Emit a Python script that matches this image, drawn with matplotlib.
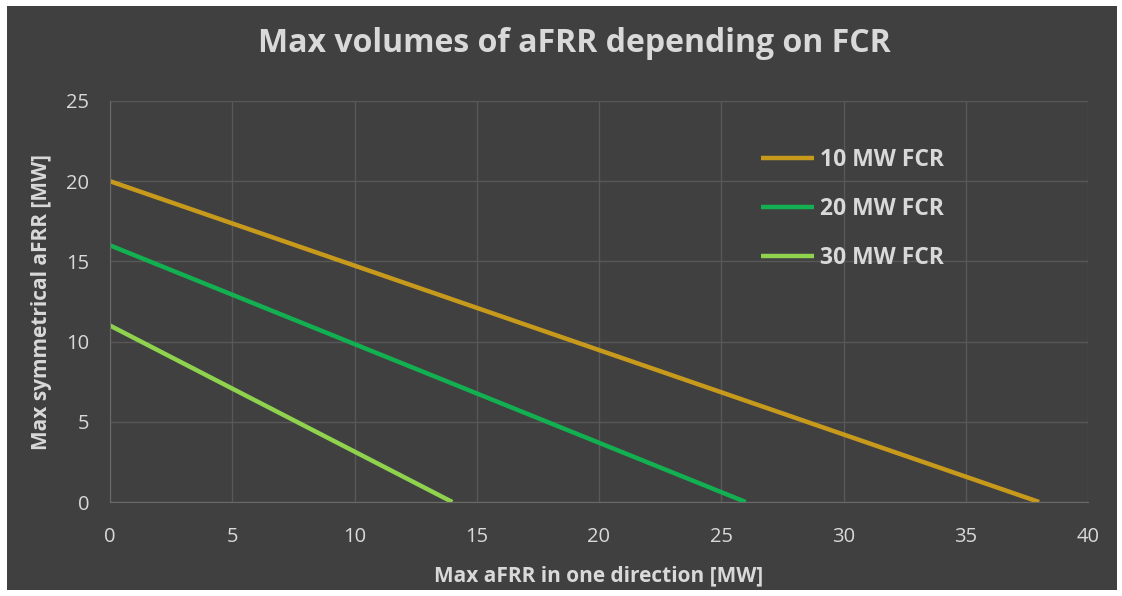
import matplotlib.pyplot as plt
from matplotlib.patches import Rectangle

# aFRR volume vs FCR commitment
labels = ['10 MW FCR', '20 MW FCR', '30 MW FCR']
x_vals = [[0, 38], [0, 26], [0, 14]]
y_vals = [[20, 0], [16, 0], [11, 0]]
colors = ['#c89a1c', '#12b050', '#8fd24e']

bg = '#404040'
txt = '#d9d9d9'

plt.rcParams['font.family'] = ['Open Sans', 'DejaVu Sans']

fig = plt.figure(figsize=(11.22, 5.96), dpi=100, facecolor='white')
fig.patches.append(Rectangle((7 / 1122, 6 / 596), 1110 / 1122, 584 / 596,
                             transform=fig.transFigure, facecolor=bg,
                             edgecolor='none', zorder=-10))

ax = fig.add_axes([110 / 1122, 1 - 502 / 596, 978 / 1122, 401 / 596])
ax.set_facecolor(bg)

for xs, ys, c, lab in zip(x_vals, y_vals, colors, labels):
    ax.plot(xs, ys, color=c, lw=3.2, label=lab, solid_capstyle='butt')

ax.set_xlim(0, 40)
ax.set_ylim(0, 25)
ax.set_xticks(range(0, 41, 5))
ax.set_yticks(range(0, 26, 5))
ax.grid(True, color='#585858', lw=1)
ax.set_axisbelow(True)
for s in ['top', 'right']:
    ax.spines[s].set_visible(False)
for s in ['left', 'bottom']:
    ax.spines[s].set_color('#6a6a6a')
ax.tick_params(length=0, colors=txt, labelsize=14.5)
ax.tick_params(axis='x', pad=18)
ax.tick_params(axis='y', pad=15)

ax.set_xlabel('Max aFRR in one direction [MW]', color=txt, fontsize=15,
              fontweight='bold', labelpad=13)
ax.set_ylabel('Max symmetrical aFRR [MW]', color=txt, fontsize=15,
              fontweight='bold', labelpad=10)
fig.text(0.512, 1 - 44 / 596, 'Max volumes of aFRR depending on FCR',
         ha='center', va='center', color=txt, fontsize=23, fontweight='bold')

leg = ax.legend(loc='upper left', bbox_to_anchor=(0.645, 0.935), frameon=False,
                handlelength=2.3, handletextpad=0.25, labelspacing=1.1,
                prop={'weight': 'bold', 'size': 16.5})
for t in leg.get_texts():
    t.set_color(txt)

fig.savefig('out.png', dpi=100, facecolor='white')
